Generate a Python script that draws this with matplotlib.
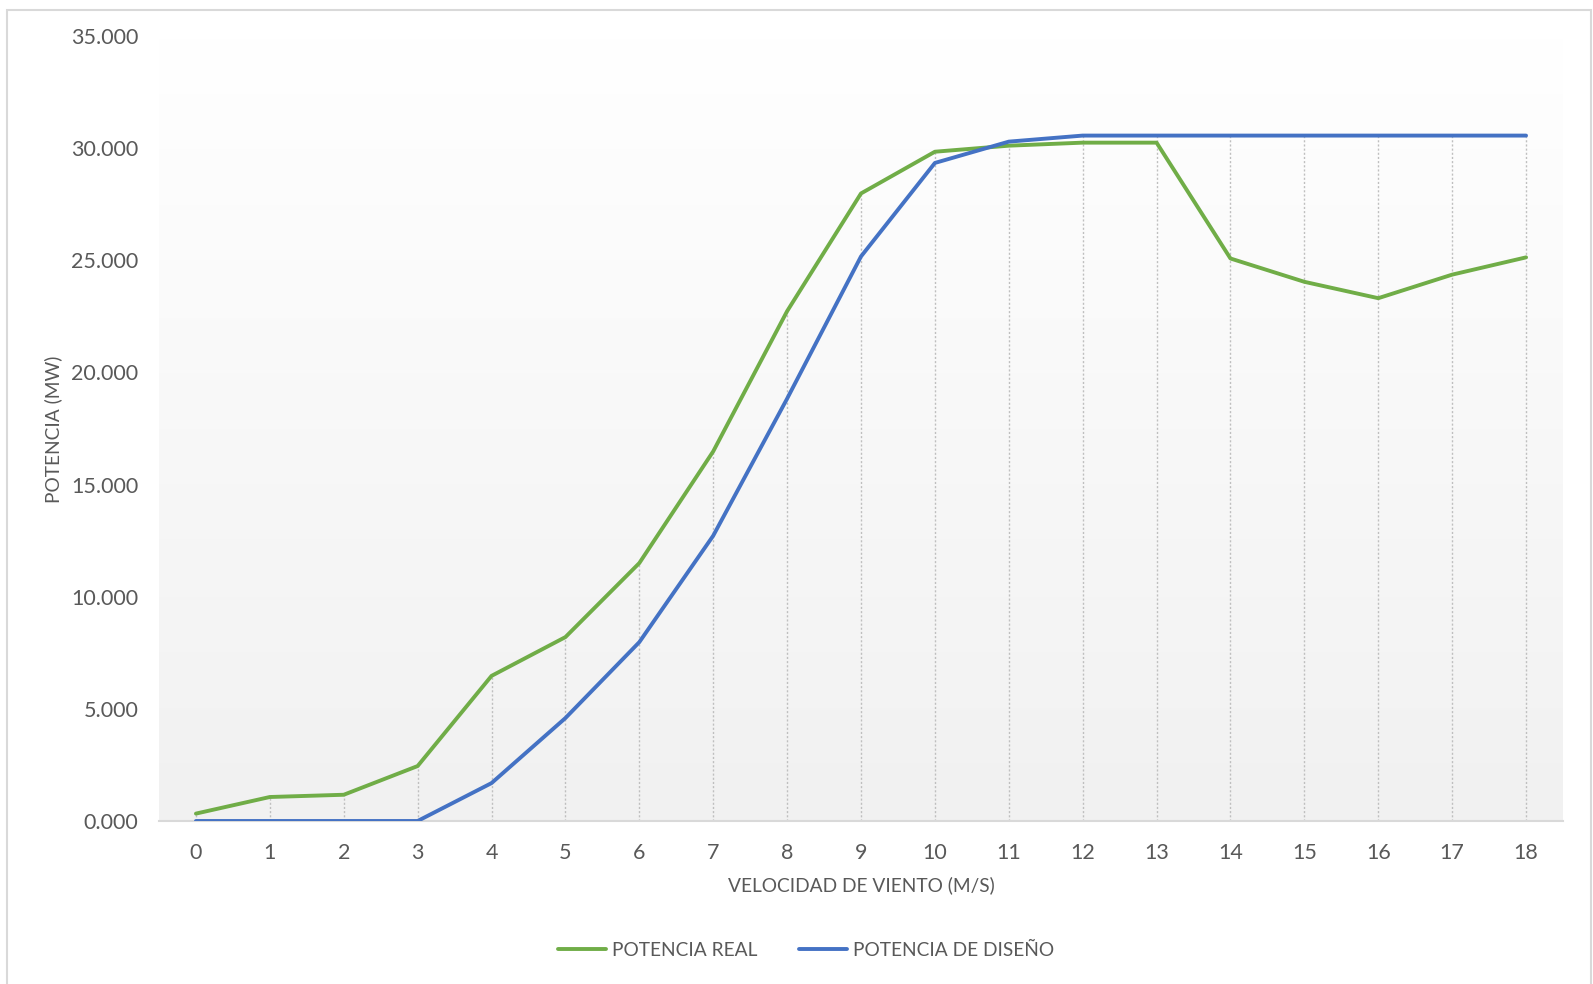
import matplotlib
matplotlib.use('Agg')
import matplotlib.pyplot as plt
from matplotlib.colors import LinearSegmentedColormap
from matplotlib.patches import Rectangle
import numpy as np

plt.rcParams['font.family'] = ['Lato', 'DejaVu Sans']

# wind speed (m/s) and power curves
speeds = list(range(19))
potencia_real = [330, 1070, 1170, 2450, 6470, 8200, 11500, 16480, 22730, 27980,
                 29840, 30110, 30245, 30245, 25080, 24040, 23310, 24360, 25130]
potencia_diseno = [0, 0, 0, 0, 1690, 4590, 7975, 12720, 18830, 25170,
                   29340, 30290, 30560, 30560, 30560, 30560, 30560, 30560, 30560]
y_ticks = [0, 5000, 10000, 15000, 20000, 25000, 30000, 35000]

c_green = '#70AD47'
c_blue = '#4472C4'
c_text = '#595959'
c_axis = '#D9D9D9'
fs_num = 15.5
fs_txt = 13.8


def plot():
    fig = plt.figure(figsize=(15.93, 9.84), dpi=100)
    fig.patch.set_facecolor('white')
    ax = fig.add_axes([159 / 1593, 1 - 821 / 984, (1563 - 159) / 1593, (821 - 36) / 984])

    # chart area border
    fig.patches.append(Rectangle((7 / 1593, -0.02), (1591 - 7) / 1593, 1.02 - 10 / 984,
                                 transform=fig.transFigure, fill=False,
                                 edgecolor=c_axis, linewidth=1.5))

    # plot area gradient
    cmap = LinearSegmentedColormap.from_list('bg', ['#F1F1F1', '#FFFFFF'])
    grad = np.linspace(0, 1, 256).reshape(-1, 1)
    ax.imshow(grad, cmap=cmap, origin='lower', aspect='auto',
              extent=[-0.5, 18.5, 0, 35000], zorder=0)

    # drop lines
    tops = [max(a, b) for a, b in zip(potencia_real, potencia_diseno)]
    ax.vlines(speeds, 0, tops, colors='#BFBFBF', linestyles=(0, (1.5, 1.5)),
              linewidth=1.0, zorder=1)

    ax.plot(speeds, potencia_real, color=c_green, lw=2.8, label='POTENCIA REAL',
            zorder=3, solid_capstyle='round')
    ax.plot(speeds, potencia_diseno, color=c_blue, lw=2.8, label='POTENCIA DE DISEÑO',
            zorder=3, solid_capstyle='round')

    ax.set_xlim(-0.5, 18.5)
    ax.set_ylim(0, 35000)
    ax.set_xticks(speeds)
    ax.set_xticklabels([str(s) for s in speeds])
    ax.set_yticks(y_ticks)
    ax.set_yticklabels([f'{v / 1000:.3f}' for v in y_ticks])
    ax.tick_params(axis='both', length=0, labelsize=fs_num, colors=c_text)
    ax.tick_params(axis='x', pad=16)
    ax.tick_params(axis='y', pad=15)

    for side in ['top', 'right', 'left']:
        ax.spines[side].set_visible(False)
    ax.spines['bottom'].set_color(c_axis)
    ax.spines['bottom'].set_linewidth(1.5)
    ax.spines['bottom'].set_zorder(2)

    fig.text(861 / 1593, 1 - 885 / 984, 'VELOCIDAD DE VIENTO (M/S)', ha='center', va='center',
             fontsize=fs_txt, color=c_text)
    fig.text(53 / 1593, 1 - 429 / 984, 'POTENCIA (MW)', ha='center', va='center',
             rotation=90, fontsize=fs_txt, color=c_text)

    fig.legend(loc='center', bbox_to_anchor=(806 / 1593, 1 - 950 / 984), ncol=2,
               frameon=False, fontsize=fs_txt, labelcolor=c_text, handlelength=2.5,
               handletextpad=0.3, columnspacing=2.2)

    plt.savefig('out.png', dpi=100, facecolor='white')


def main():
    plot()


if __name__ == '__main__':
    main()
